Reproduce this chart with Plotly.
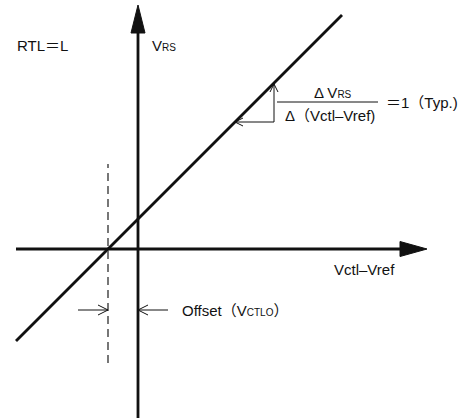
import plotly.graph_objects as go

# schematic units: 1 unit = 10 px, origin where the two axes cross
x_range = [-13.8, 32.9]
y_range = [-16.9, 24.9]

h_axis_x = [-12.2, 26.4]
h_axis_y = [0, 0]
h_head_x = [26.2, 28.9, 26.2, 26.2]
h_head_y = [0.75, 0, -0.75, 0.75]

v_axis_x = [0, 0]
v_axis_y = [-16.9, 21.8]
v_head_x = [-0.7, 0, 0.7, -0.7]
v_head_y = [21.6, 24.4, 21.6, 21.6]

offset = -3.0
char_x = [-12.2, 20.4]
char_y = [-9.2, 23.4]

dash_x = [offset, offset]
dash_y = [-11.4, 8.5]

tri_x = [9.7, 13.6, 13.6]
tri_y = [12.7, 12.7, 16.5]
frac_x = [13.9, 24.0]
frac_y = [14.7, 14.7]

offset_arrow_y = -6.1
left_arrow_x = [-6.0, offset]
right_arrow_x = [3.0, 0.0]


def open_head(tx, ty, dx, dy, length=1.0, half=0.5):
    # V-shaped open arrowhead, tip at (tx, ty), pointing along (dx, dy)
    px, py = -dy, dx
    bx, by = tx - dx * length, ty - dy * length
    return ([bx + px * half, tx, bx - px * half],
            [by + py * half, ty, by - py * half])


fig = go.Figure()

black = "#111111"
thick = dict(color=black, width=2.8)
thin = dict(color=black, width=1)

fig.add_trace(go.Scatter(x=h_axis_x, y=h_axis_y, mode="lines", line=thick))
fig.add_trace(go.Scatter(x=h_head_x, y=h_head_y, mode="lines", fill="toself",
                         fillcolor=black, line=dict(color=black, width=1)))
fig.add_trace(go.Scatter(x=v_axis_x, y=v_axis_y, mode="lines", line=thick))
fig.add_trace(go.Scatter(x=v_head_x, y=v_head_y, mode="lines", fill="toself",
                         fillcolor=black, line=dict(color=black, width=1)))
fig.add_trace(go.Scatter(x=char_x, y=char_y, mode="lines", line=thick))
fig.add_trace(go.Scatter(x=dash_x, y=dash_y, mode="lines",
                         line=dict(color="#555555", width=1.6, dash="8px,5px")))

# slope triangle
fig.add_trace(go.Scatter(x=tri_x, y=tri_y, mode="lines", line=thin))
hx, hy = open_head(tri_x[2], tri_y[2], 0, 1, 0.8, 0.4)
fig.add_trace(go.Scatter(x=hx, y=hy, mode="lines", line=thin))
hx, hy = open_head(tri_x[0], tri_y[0], -1, 0, 0.8, 0.4)
fig.add_trace(go.Scatter(x=hx, y=hy, mode="lines", line=thin))
fig.add_trace(go.Scatter(x=frac_x, y=frac_y, mode="lines", line=thin))

# offset arrows
fig.add_trace(go.Scatter(x=left_arrow_x, y=[offset_arrow_y] * 2, mode="lines", line=thin))
hx, hy = open_head(left_arrow_x[1], offset_arrow_y, 1, 0)
fig.add_trace(go.Scatter(x=hx, y=hy, mode="lines", line=thin))
fig.add_trace(go.Scatter(x=right_arrow_x, y=[offset_arrow_y] * 2, mode="lines", line=thin))
hx, hy = open_head(right_arrow_x[1], offset_arrow_y, -1, 0)
fig.add_trace(go.Scatter(x=hx, y=hy, mode="lines", line=thin))

small = '<span style="font-size:10px">%s</span>'
labels = [
    (-12.3, 20.4, "RTL＝L"),
    (1.2, 20.4, "V" + small % "RS"),
    (19.4, -2.0, "Vctl–Vref"),
    (4.2, offset_arrow_y, "Offset（V" + small % "CTLO" + "）"),
    (17.4, 15.7, "Δ V" + small % "RS"),
    (14.5, 13.4, "Δ（Vctl–Vref)"),
    (24.6, 14.7, "＝1（Typ.)"),
]
for lx, ly, text in labels:
    fig.add_annotation(x=lx, y=ly, xanchor="left", yanchor="middle", text=text,
                       showarrow=False,
                       font=dict(family="Liberation Sans, Arial, Noto Sans CJK JP",
                                 size=15, color=black))

fig.update_xaxes(range=x_range, visible=False, showgrid=False, zeroline=False)
fig.update_yaxes(range=y_range, visible=False, showgrid=False, zeroline=False)
fig.update_layout(width=467, height=418, margin=dict(l=0, r=0, t=0, b=0),
                  showlegend=False, plot_bgcolor="white", paper_bgcolor="white",
                  hovermode=False)

# the page body has a default 8px margin; drop it so the figure fills the window
fig.write_html("out.html", config={"displayModeBar": False},
               post_script="document.body.style.margin = '0px';")
